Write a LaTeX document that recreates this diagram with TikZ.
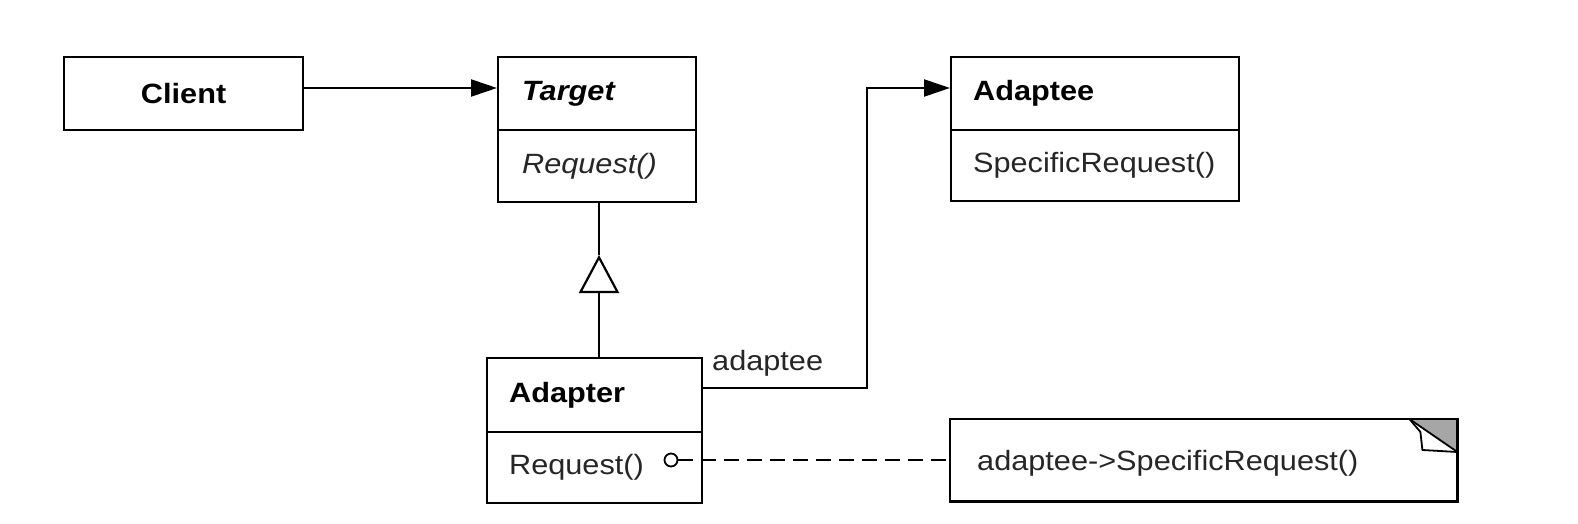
\documentclass[tikz,border=0pt]{standalone}
\usepackage{fontspec}
\setmainfont{Liberation Sans}[FakeStretch=1.1]
\usetikzlibrary{arrows.meta}
\begin{document}
\begin{tikzpicture}[x=1bp,y=-1bp,
  every node/.style={font=\fontsize{28}{32}\selectfont},
  cls/.style={draw, line width=2.2bp, anchor=north west, align=left, inner xsep=22bp, inner ysep=0pt},
  opstxt/.style={text=black!85},
  conn/.style={line width=2.2bp},
  nav/.style={conn, -{Triangle[length=26bp,width=17bp]}},
  gen/.style={conn, -{Triangle[open,length=38bp,width=40bp,line width=2.2bp]}},
  dashline/.style={conn, dash pattern=on 15bp off 8bp}
]
\useasboundingbox (0,0) rectangle (1578,524);
\fill[white] (0,0) rectangle (1578,524);

% Client
\node[cls, text width=195bp, align=center, minimum height=73bp] (client) at (63,56) {\textbf{Client}};

% Target
\node[cls, inner xsep=24bp, text width=150bp, minimum height=73bp] (targethead) at (497,56) {\textbf{\textit{Target}}};
\node[cls, inner xsep=24bp, text width=150bp, minimum height=72bp, opstxt] (targetops) at (497,129) {\textit{Request()}};

% Adaptee
\node[cls, text width=244bp, minimum height=73bp] (adapteehead) at (950,56) {\textbf{Adaptee}};
\node[cls, text width=244bp, minimum height=71bp, opstxt] (adapteeops) at (950,129) {SpecificRequest()};

% Adapter
\node[cls, text width=171bp, minimum height=74bp] (adapterhead) at (486,357) {\textbf{Adapter}};
\node[cls, text width=171bp, minimum height=71bp, opstxt] (adapterops) at (486,431) {Request()};

% Note
\node[anchor=north west, minimum width=507bp, minimum height=82bp, inner xsep=27bp, inner ysep=0pt, text depth=0pt, text width=453bp, align=left, opstxt] (note) at (950,419) {adaptee->SpecificRequest()};
\fill[black!35] ([xshift=-48bp]note.north east) -- (note.north east) -- ([yshift=-33bp]note.north east) -- cycle;
\draw[line width=2.2bp] (note.north west) -- (note.north east) -- (note.south east) -- (note.south west) -- cycle;
\draw[line width=1.8bp, line join=round] ([xshift=-48bp]note.north east) -- ([yshift=-33bp]note.north east);
\draw[line width=1.8bp, line join=round] ([xshift=-48bp]note.north east) -- ([xshift=-37bp,yshift=-13bp]note.north east) -- ([xshift=-35bp,yshift=-31bp]note.north east) -- ([yshift=-33bp]note.north east);

% Client -> Target
\coordinate (arrowrow) at (0,88);
\draw[nav] (client.east |- arrowrow) -- (targethead.west |- arrowrow);

% Adapter -> Adaptee (adaptee)
\coordinate (bend) at (867,388);
\draw[nav] (adapterhead.east |- bend) -- (bend) |- (adapteehead.west |- arrowrow);
\node[anchor=west, inner sep=0pt, opstxt] (lbl) at (712,363) {adaptee};

% Generalization
\coordinate (apex) at (599,255);
\draw[gen] (apex |- adapterhead.north) -- (apex);
\draw[conn] (apex) -- (apex |- targetops.south);

% Note link
\coordinate (circ) at (671,460);
\draw[line width=1.8bp] (circ) circle (6.5bp);
\draw[dashline] ([xshift=6.5bp]circ) -- (note.west |- circ);
\end{tikzpicture}
\end{document}
